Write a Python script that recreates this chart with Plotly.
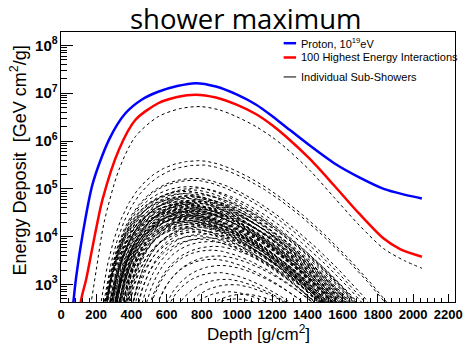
import numpy as np
import plotly.graph_objects as go

# ---------------- data ----------------
# Total proton shower (blue): depth [g/cm2], log10(energy deposit)
proton_depth = [60, 72, 87, 124, 180, 273, 366, 460, 552, 660, 765, 880, 1000, 1109, 1200, 1276, 1415, 1554, 1694, 1833, 1950, 2050]
proton_log = [2.2, 2.69, 3.18, 4.07, 5.11, 6.03, 6.58, 6.87, 7.03, 7.15, 7.21, 7.14, 6.97, 6.76, 6.52, 6.30, 5.90, 5.53, 5.24, 5.00, 4.88, 4.80]

# Sum of the 100 highest-energy interactions (red)
top100_depth = [100, 115, 143, 180, 236, 329, 422, 552, 660, 765, 880, 997, 1109, 1200, 1276, 1415, 1554, 1694, 1833, 1926, 2050]
top100_log = [2.2, 2.69, 3.11, 3.80, 4.78, 5.82, 6.44, 6.79, 6.92, 6.97, 6.91, 6.76, 6.56, 6.33, 6.10, 5.62, 5.06, 4.48, 3.96, 3.74, 3.58]

# Largest individual sub-shower (dashed)
largest_depth = [150, 170, 200, 245, 329, 422, 552, 680, 793, 900, 997, 1109, 1200, 1276, 1415, 1554, 1694, 1833, 1950, 2050]
largest_log = [2.2, 2.6, 3.3, 4.3, 5.40, 6.09, 6.51, 6.68, 6.72, 6.65, 6.51, 6.30, 6.08, 5.86, 5.38, 4.81, 4.24, 3.75, 3.50, 3.34]

# Other sub-showers: depth of maximum, log10 of peak deposit, starting depth
sub_xmax = [790, 800, 770, 760, 740, 780, 750, 720, 760, 700, 790, 740, 720, 760, 700, 740, 810, 720, 760, 690,
            740, 780, 710, 750, 730, 770, 700, 740, 760, 720, 800, 690, 740, 760, 710, 750, 780, 730, 700, 760,
            740, 720, 790, 750, 700, 770, 730, 760, 720, 780, 740, 810, 750, 790, 730, 770, 800, 760, 820, 780,
            840, 800, 850, 880, 860, 900, 870, 920, 900, 940, 980, 960, 1050, 1000, 730, 760, 700, 745, 775, 715,
            820, 850, 680, 760, 800, 720]
sub_logmax = [5.59, 5.50, 5.22, 5.18, 5.05, 5.02, 4.98, 4.95, 4.92, 4.90, 4.88, 4.86, 4.85, 4.83, 4.81, 4.80, 4.78, 4.76, 4.75, 4.73,
              4.72, 4.70, 4.69, 4.67, 4.66, 4.64, 4.63, 4.62, 4.60, 4.59, 4.57, 4.56, 4.55, 4.53, 4.52, 4.50, 4.49, 4.47, 4.46, 4.44,
              4.43, 4.41, 4.40, 4.38, 4.36, 4.35, 4.33, 4.31, 4.30, 4.28, 4.26, 4.24, 4.22, 4.20, 4.18, 4.15, 4.12, 4.10, 4.06, 4.02,
              3.98, 3.95, 3.90, 3.80, 3.72, 3.60, 3.53, 3.40, 3.25, 3.11, 3.00, 2.85, 2.80, 2.70, 4.58, 4.45, 4.68, 4.34, 4.54, 4.39,
              4.62, 4.48, 4.52, 4.27, 4.74, 4.44]
sub_x0 = [150, 165, 170, 185, 175, 195, 180, 190, 160, 200, 185, 215, 170, 205, 185, 225, 210, 205, 180, 195,
          235, 215, 175, 245, 200, 225, 220, 190, 255, 235, 205, 225, 265, 215, 245, 230, 275, 205, 255, 240,
          285, 220, 260, 275, 235, 295, 250, 265, 305, 280, 255, 315, 285, 325, 270, 305, 335, 295, 345, 315,
          355, 340, 380, 380, 400, 410, 420, 440, 460, 480, 500, 530, 580, 600, 210, 250, 195, 275, 235, 260,
          230, 270, 175, 300, 205, 280]

# shape constants for the sub-shower profiles
LAMBDA = 115.0     # rise (Gaisser-Hillas like)
S_FALL = 320.0     # fall scale
P_FALL = 1.6       # fall exponent
X_END = 2050


def sub_profile(xmax, logmax, x0):
    x = np.arange(x0 + 2, X_END + 1, 5.0)
    t = (x - x0) / (xmax - x0)
    m = (xmax - x0) / LAMBDA
    ln_left = m * (np.log(t) + 1 - t)
    ln_right = -(np.abs(x - xmax) / S_FALL) ** P_FALL
    lnr = np.where(x < xmax, ln_left, ln_right)
    y = 10 ** logmax * np.exp(lnr)
    return x, np.maximum(y, 50.0)


# ---------------- geometry (pixels) ----------------
W, H = 471, 344
L, R, T, B = 61, 462.7, 32.3, 302.5


def xp(px):
    return (px - L) / (R - L)


def yp(py):
    return (B - py) / (B - T)


fig = go.Figure()

for xm, lm, x0 in zip(sub_xmax, sub_logmax, sub_x0):
    x, y = sub_profile(xm, lm, x0)
    fig.add_trace(go.Scatter(x=x, y=y, mode="lines", showlegend=False, hoverinfo="skip",
                             line=dict(color="black", width=1, dash="3px,3px")))

fig.add_trace(go.Scatter(x=largest_depth, y=[10 ** v for v in largest_log], mode="lines", showlegend=False,
                         line=dict(color="black", width=1, dash="3px,3px", shape="spline", smoothing=0.8)))
fig.add_trace(go.Scatter(x=top100_depth, y=[10 ** v for v in top100_log], mode="lines", showlegend=False,
                         line=dict(color="#ff0000", width=2.5, shape="spline", smoothing=0.8)))
fig.add_trace(go.Scatter(x=proton_depth, y=[10 ** v for v in proton_log], mode="lines", showlegend=False,
                         line=dict(color="#0000ff", width=2.5, shape="spline", smoothing=0.8)))

tickfont_x = dict(family="Liberation Sans", size=13, color="black", weight="bold")
tickfont_y = dict(family="Liberation Sans", size=12, color="black", weight="bold")

fig.update_xaxes(range=[0, 2238], tick0=0, dtick=200, ticks="inside", ticklen=8, tickwidth=1,
                 tickcolor="black", showline=True, linecolor="black", linewidth=1, mirror=True,
                 showgrid=False, zeroline=False, tickfont=tickfont_x,
                 minor=dict(dtick=40, ticks="inside", ticklen=4, tickcolor="black", showgrid=False))
fig.update_yaxes(type="log", range=[2.634, 8.28], dtick=1, exponentformat="power", ticks="inside",
                 ticklen=12, tickwidth=1, tickcolor="black", showline=True, linecolor="black",
                 linewidth=1, mirror=True, showgrid=False, zeroline=False, tickfont=tickfont_y,
                 minor=dict(dtick="D1", ticks="inside", ticklen=6, tickcolor="black", showgrid=False))

annotations = [
    dict(text="shower maximum", x=xp(250), y=yp(18.5), xref="paper", yref="paper", showarrow=False,
         xanchor="center", yanchor="middle", font=dict(family="Open Sans", size=27.5, color="black")),
    dict(text="Depth [g/cm<sup>2</sup>]", x=xp(262), y=yp(334), xref="paper", yref="paper", showarrow=False,
         xanchor="center", yanchor="middle", font=dict(family="Liberation Sans", size=17, color="black")),
    dict(text="Energy Deposit\u00a0\u00a0[GeV cm<sup>2</sup>/g]", x=xp(18), y=yp(161), xref="paper", yref="paper",
         showarrow=False, textangle=-90, xanchor="center", yanchor="middle",
         font=dict(family="Liberation Sans", size=18, color="black")),
]

legend_rows = [
    ("Proton, 10<sup>19</sup>eV", 43.5, "#0000ff", 2.5),
    ("100 Highest Energy Interactions", 57.8, "#ff0000", 2.5),
    ("Individual Sub-Showers", 77.3, "black", 1),
]
shapes = []
for text, py, col, w in legend_rows:
    shapes.append(dict(type="line", xref="paper", yref="paper", x0=xp(288), x1=xp(300.7), y0=yp(py), y1=yp(py),
                       line=dict(color=col, width=w)))
    annotations.append(dict(text=text, x=xp(303.5), y=yp(py), xref="paper", yref="paper", showarrow=False,
                            xanchor="left", yanchor="middle",
                            font=dict(family="Liberation Sans", size=11, color="black")))

fig.update_layout(width=W, height=H, autosize=False, paper_bgcolor="white", plot_bgcolor="white",
                  margin=dict(l=L, r=W - R, t=T, b=H - B, pad=0), showlegend=False,
                  annotations=annotations, shapes=shapes)

fig.write_html("out.html")
